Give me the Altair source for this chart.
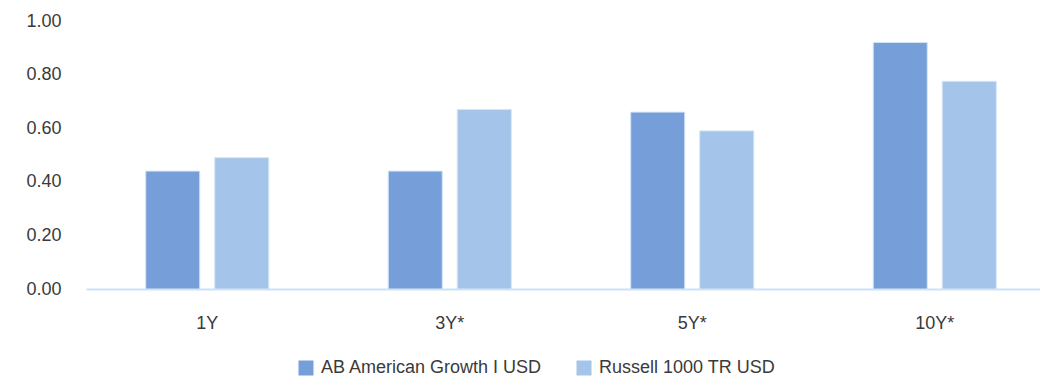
import altair as alt
import pandas as pd

periods = ["1Y", "3Y*", "5Y*", "10Y*"]
series = ["AB American Growth I USD", "Russell 1000 TR USD"]
fund_vals = [0.44, 0.44, 0.66, 0.92]
index_vals = [0.49, 0.67, 0.59, 0.775]
y_ticks = [0.0, 0.2, 0.4, 0.6, 0.8, 1.0]
colors = ["#769ED9", "#A5C4E9"]

rows = []
for p, a, b in zip(periods, fund_vals, index_vals):
    rows.append({"period": p, "series": series[0], "value": a})
    rows.append({"period": p, "series": series[1], "value": b})
df = pd.DataFrame(rows)

FONT = "Liberation Sans"
FS = 18
TC = "#3a3a3a"

chart = alt.Chart(df).mark_bar(
    stroke="#D4E5F7", strokeWidth=1
).encode(
    x=alt.X("period:N", sort=periods, title=None,
            scale=alt.Scale(range=[0, 970], paddingInner=0.4926, paddingOuter=0.2463),
            axis=alt.Axis(labelAngle=0, ticks=False, domain=True,
                          domainColor="#C9E2F7", domainWidth=2,
                          labelPadding=25, labelFont=FONT, labelFontSize=FS,
                          labelColor=TC)),
    xOffset=alt.XOffset("series:N", sort=series,
                        scale=alt.Scale(paddingInner=0.217, paddingOuter=0)),
    y=alt.Y("value:Q", title=None,
            scale=alt.Scale(domain=[0, 1.0], nice=False),
            axis=alt.Axis(values=y_ticks, format=".2f", grid=False, ticks=False,
                          domain=False, labelPadding=25, labelFont=FONT,
                          labelFontSize=FS, labelColor=TC)),
    color=alt.Color("series:N", sort=series,
                    scale=alt.Scale(domain=series, range=colors),
                    legend=alt.Legend(title=None, orient="none", direction="horizontal",
                                      legendX=211, legendY=338,
                                      symbolType="square", symbolSize=225,
                                      symbolStrokeWidth=0, labelFont=FONT,
                                      labelFontSize=FS, labelColor=TC, labelLimit=0,
                                      labelOffset=6, columnPadding=32)),
).properties(
    width=954, height=268,
    background="white",
    autosize=alt.AutoSizeParams(type="none"),
    padding={"left": 86, "top": 21, "right": 0, "bottom": 87},
).configure_view(strokeWidth=0, stroke=None)

chart.save("out.html", embed_options={"renderer": "svg", "actions": False})
